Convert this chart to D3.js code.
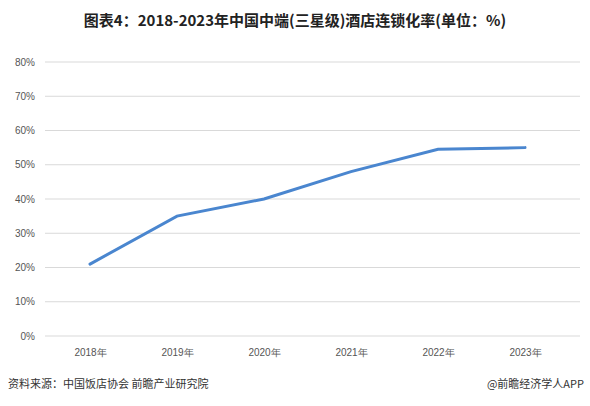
<!DOCTYPE html>
<html><head><meta charset="utf-8">
<script src="https://cdn.jsdelivr.net/npm/d3@7"></script>
<style>body{margin:0;background:#fff;font-family:"Noto Sans CJK SC","Noto Sans",sans-serif;}</style>
</head><body><div id="chart"></div>
<script>
const years = ['2018年', '2019年', '2020年', '2021年', '2022年', '2023年'];
const rates = [21, 35, 40, 48, 54.5, 55];
const yTicks = [0, 10, 20, 30, 40, 50, 60, 70, 80];

const W = 590, H = 406;
const svg = d3.select('#chart').append('svg').attr('width', W).attr('height', H);

svg.append('text').attr('x', W / 2).attr('y', 26).attr('text-anchor', 'middle')
  .attr('font-size', 15).attr('font-weight', 'bold').attr('fill', '#222')
  .text('图表4：2018-2023年中国中端(三星级)酒店连锁化率(单位：%)');

const x = d3.scalePoint().domain(years).range([90, 525]);
const y = d3.scaleLinear().domain([0, 80]).range([336, 62]);

const grid = svg.append('g');
grid.selectAll('line').data(yTicks).enter().append('line')
  .attr('x1', 45).attr('x2', 580)
  .attr('y1', d => y(d)).attr('y2', d => y(d))
  .attr('stroke', '#d9d9d9').attr('stroke-width', 1);

const yAxis = svg.append('g').attr('transform', 'translate(38,0)')
  .call(d3.axisLeft(y).tickValues(yTicks).tickFormat(d => d + '%').tickSize(0));
yAxis.select('.domain').remove();
yAxis.selectAll('text').attr('font-size', 10).attr('fill', '#555');

const xAxis = svg.append('g').attr('transform', 'translate(0,346)')
  .call(d3.axisBottom(x).tickSize(0));
xAxis.select('.domain').remove();
xAxis.selectAll('text').attr('font-size', 10).attr('fill', '#555');

const line = d3.line().x((d, i) => x(years[i])).y(d => y(d));
svg.append('path').datum(rates).attr('d', line)
  .attr('fill', 'none').attr('stroke', '#4a86cf').attr('stroke-width', 3)
  .attr('stroke-linecap', 'round');

svg.append('text').attr('x', 8).attr('y', 388).attr('font-size', 11).attr('fill', '#333')
  .text('资料来源：中国饭店协会 前瞻产业研究院');
svg.append('text').attr('x', 584).attr('y', 388).attr('text-anchor', 'end')
  .attr('font-size', 11).attr('fill', '#333').text('@前瞻经济学人APP');
</script></body></html>
